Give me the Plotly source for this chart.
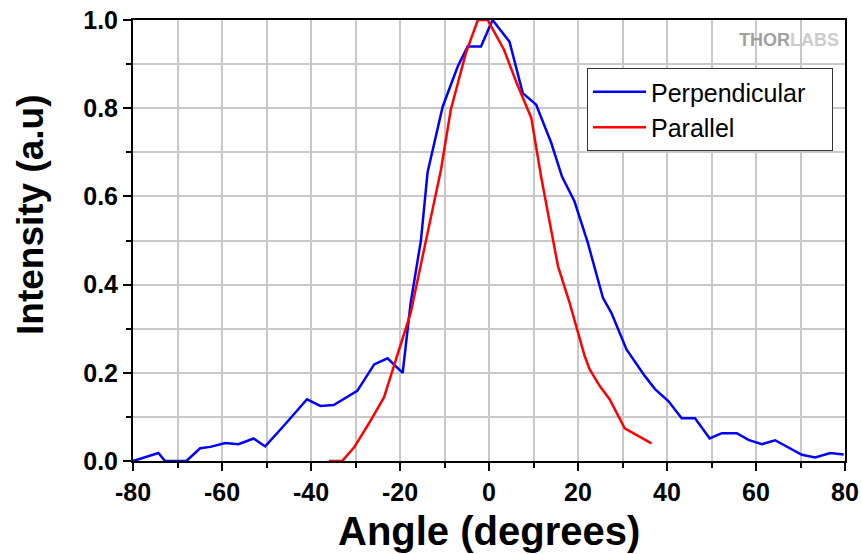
import plotly.graph_objects as go

# Perpendicular (blue)
perp_angle = [-80, -74.3, -72.8, -68, -64.9, -62.6, -59.3, -56.3, -52.9, -50.3, -46.1,
              -40.9, -37.9, -34.9, -29.6, -25.8, -22.8, -19.4, -17.6, -15.3, -13.8,
              -10.4, -7.05, -4.8, -1.8, 0.8, 4.6, 7.6, 10.6, 14, 16.4, 19.2, 22.2,
              25.6, 27.5, 30.9, 35, 37.3, 40.3, 43.3, 46.3, 49.6, 52.3, 55.7, 58.3,
              61.3, 64.3, 67.3, 70.3, 73.3, 76.7, 79.7]
perp_int = [0, 0.018, 0, 0, 0.029, 0.032, 0.041, 0.038, 0.051, 0.033, 0.08,
            0.14, 0.125, 0.127, 0.159, 0.219, 0.233, 0.2, 0.359, 0.5, 0.655,
            0.804, 0.894, 0.94, 0.94, 1.0, 0.951, 0.834, 0.808, 0.721, 0.645, 0.589, 0.495,
            0.37, 0.336, 0.253, 0.193, 0.163, 0.136, 0.097, 0.097, 0.051, 0.063, 0.063, 0.048,
            0.038, 0.047, 0.031, 0.014, 0.008, 0.018, 0.015]

# Parallel (red)
par_angle = [-36, -33, -30.3, -27, -23.6, -20.6, -17.6, -15.7, -13.1, -10.8, -8.6, -5.2,
             -2.5, -0.3, 3.4, 6.1, 9.5, 11.7, 15.5, 18.1, 21.5, 22.6, 24.9, 27.1, 30.5, 36.5]
par_int = [0, 0, 0.031, 0.085, 0.144, 0.238, 0.336, 0.427, 0.555, 0.66, 0.796, 0.925,
           1.0, 1.0, 0.932, 0.86, 0.778, 0.645, 0.442, 0.359, 0.238, 0.208, 0.17, 0.14, 0.074, 0.04]

x_ticks = [-80, -60, -40, -20, 0, 20, 40, 60, 80]
y_ticks = [0.0, 0.2, 0.4, 0.6, 0.8, 1.0]

FONT = "Liberation Sans, Arial, sans-serif"
GRID = "#c8c8c8"
NBSP = "\u00a0"

# plot area in window pixels: x 133..845, y 20..461
def px(sx):
    return (sx - 133) / 712

def py(sy):
    return (461 - sy) / 441

fig = go.Figure()
fig.add_trace(go.Scatter(x=perp_angle, y=perp_int, mode="lines", name="Perpendicular" + NBSP * 3,
                         line=dict(color="#0000ff", width=2.5)))
fig.add_trace(go.Scatter(x=par_angle, y=par_int, mode="lines", name="Parallel",
                         line=dict(color="#ff0000", width=2.5)))

fig.update_layout(
    width=862, height=554,
    margin=dict(l=133, r=17, t=20, b=93, autoexpand=False),
    plot_bgcolor="white", paper_bgcolor="white",
    font=dict(family=FONT, color="black"),
    showlegend=True,
    legend=dict(x=px(587), y=py(68), xanchor="left", yanchor="top",
                bgcolor="white", bordercolor="#333333", borderwidth=1,
                font=dict(size=25, family=FONT), itemwidth=53,
                tracegroupgap=0),
    xaxis=dict(range=[-80, 80], tickvals=x_ticks, ticktext=[str(v) for v in x_ticks],
               automargin=False, ticklabeloverflow="allow",
               showline=True, linecolor="black", linewidth=2, mirror=True,
               ticks="outside", ticklen=8, tickwidth=2, tickcolor="black",
               showgrid=True, gridcolor=GRID, gridwidth=1.5, zeroline=False,
               minor=dict(dtick=10, tick0=0, ticks="outside", ticklen=5, tickwidth=2,
                          tickcolor="black", showgrid=True, gridcolor=GRID, gridwidth=1.5),
               tickfont=dict(size=25, family=FONT, weight="bold")),
    yaxis=dict(range=[0, 1.0], tickvals=y_ticks, ticktext=[f"{v:.1f}" for v in y_ticks],
               automargin=False, ticklabeloverflow="allow",
               showline=True, linecolor="black", linewidth=2, mirror=True,
               ticks="outside", ticklen=8, tickwidth=2, tickcolor="black",
               showgrid=True, gridcolor=GRID, gridwidth=1.5, zeroline=False,
               minor=dict(dtick=0.1, tick0=0, ticks="outside", ticklen=5, tickwidth=2,
                          tickcolor="black", showgrid=True, gridcolor=GRID, gridwidth=1.5),
               tickfont=dict(size=25, family=FONT, weight="bold")),
)

# axis titles
fig.add_annotation(x=px(488.5), y=py(531), xref="paper", yref="paper",
                   xanchor="center", yanchor="middle", showarrow=False,
                   text="<b>Angle (degrees)</b>", font=dict(size=40, family=FONT, color="black"))
fig.add_annotation(x=px(30), y=py(215), xref="paper", yref="paper", textangle=-90,
                   xanchor="center", yanchor="middle", showarrow=False,
                   text="<b>Intensity (a.u)</b>", font=dict(size=37, family=FONT, color="black"))

# watermark
fig.add_annotation(x=px(841), y=py(40), xref="paper", yref="paper", xanchor="right", yanchor="middle",
                   text="<b><span style='color:#a0a0a0'>THOR</span><span style='color:#cccccc'>LABS</span></b>",
                   showarrow=False, font=dict(size=18, family=FONT, color="#a0a0a0"))

fig.write_html("out.html", config={"displayModeBar": False},
               post_script="document.body.style.margin='0';document.body.style.overflow='hidden';")
